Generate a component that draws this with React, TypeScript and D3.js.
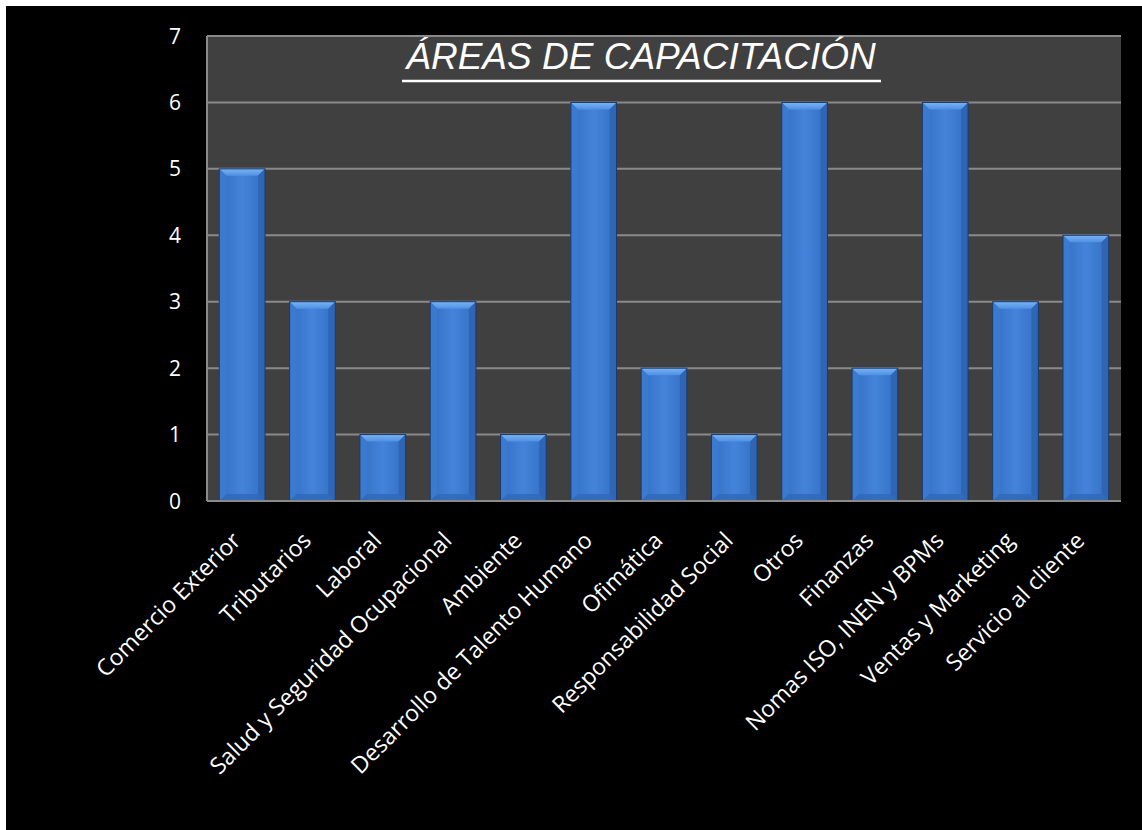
import React from "react";
import * as d3 from "d3";

const categories = [
  "Comercio Exterior",
  "Tributarios",
  "Laboral",
  "Salud y Seguridad Ocupacional",
  "Ambiente",
  "Desarrollo de Talento Humano",
  "Ofimática",
  "Responsabilidad Social",
  "Otros",
  "Finanzas",
  "Nomas ISO, INEN y BPMs",
  "Ventas y Marketing",
  "Servicio al cliente",
];
const values = [5, 3, 1, 3, 1, 6, 2, 1, 6, 2, 6, 3, 4];
const yTicks = [0, 1, 2, 3, 4, 5, 6, 7];
const title = "ÁREAS DE CAPACITACIÓN";

export default function App() {
  const W = 1142;
  const H = 830;
  const left = 207;
  const right = 1121;
  const top = 36;
  const bottom = 501;

  const x = d3.scaleBand<string>().domain(categories).range([left, right]).paddingInner(0.35).paddingOuter(0.175);
  const y = d3.scaleLinear().domain([0, 7]).range([bottom, top]);
  const bw = x.bandwidth();
  const bev = 7;

  return (
    <svg
      width={W}
      height={H}
      style={{ position: "fixed", top: 0, left: 0, display: "block" }}
      fontFamily="'Open Sans', sans-serif"
    >
      <defs>
        <linearGradient id="barG" x1="0" x2="1" y1="0" y2="0">
          <stop offset="0" stopColor="#3470c4" />
          <stop offset="0.5" stopColor="#4383d9" />
          <stop offset="1" stopColor="#3270c4" />
        </linearGradient>
        <linearGradient id="topG" x1="0" x2="0" y1="0" y2="1">
          <stop offset="0" stopColor="#7ab4f5" />
          <stop offset="1" stopColor="#4f90e2" />
        </linearGradient>
      </defs>
      <rect x={0} y={0} width={W} height={H} fill="#ffffff" />
      <rect x={6} y={6} width={W - 6} height={H - 6} fill="#000000" />
      <rect x={left} y={top} width={right - left} height={bottom - top} fill="#404040" />
      {yTicks.map((t) => (
        <line key={"g" + t} x1={left} x2={right} y1={y(t)} y2={y(t)} stroke="#8a8a8a" strokeWidth={2} />
      ))}
      <line x1={left} x2={left} y1={top} y2={bottom} stroke="#8a8a8a" strokeWidth={2} />
      {yTicks.map((t) => (
        <text key={"t" + t} x={181} y={y(t)} dy="0.36em" textAnchor="end" fill="#ffffff" fontSize={21}>
          {t}
        </text>
      ))}
      {categories.map((c, i) => {
        const x0 = x(c)!;
        const y0 = y(values[i]);
        const h = bottom - y0;
        return (
          <g key={c}>
            <rect x={x0} y={y0} width={bw} height={h} fill="url(#barG)" />
            <path
              d={`M${x0},${y0} L${x0 + bw},${y0} L${x0 + bw - bev},${y0 + bev} L${x0 + bev},${y0 + bev} Z`}
              fill="url(#topG)"
            />
            <path
              d={`M${x0},${y0} L${x0 + bev},${y0 + bev} L${x0 + bev},${bottom - bev} L${x0},${bottom} Z`}
              fill="#3b7bd2"
              opacity={0.9}
            />
            <path
              d={`M${x0 + bw},${y0} L${x0 + bw - bev},${y0 + bev} L${x0 + bw - bev},${bottom - bev} L${x0 + bw},${bottom} Z`}
              fill="#2d64b3"
              opacity={0.9}
            />
            <path
              d={`M${x0},${bottom} L${x0 + bev},${bottom - bev} L${x0 + bw - bev},${bottom - bev} L${x0 + bw},${bottom} Z`}
              fill="#3168b8"
              opacity={0.8}
            />
            <rect x={x0} y={y0} width={bw} height={h} fill="none" stroke="#1d3a66" strokeWidth={1} />
          </g>
        );
      })}
      <line x1={left} x2={right} y1={bottom} y2={bottom} stroke="#8a8a8a" strokeWidth={2} />
      {categories.map((c) => {
        const cx = x(c)! + bw / 2;
        return (
          <text
            key={"l" + c}
            transform={`translate(${cx},${542}) rotate(-45)`}
            textAnchor="end"
            fill="#ffffff"
            fontSize={23}
          >
            {c}
          </text>
        );
      })}
      <text
        x={641}
        y={69}
        textAnchor="middle"
        fill="#ffffff"
        fontSize={37}
        fontStyle="italic"
        fontFamily="'Liberation Sans', Arial, sans-serif"
      >
        {title}
      </text>
      <line x1={402} x2={881} y1={81} y2={81} stroke="#ffffff" strokeWidth={2.5} />
    </svg>
  );
}
